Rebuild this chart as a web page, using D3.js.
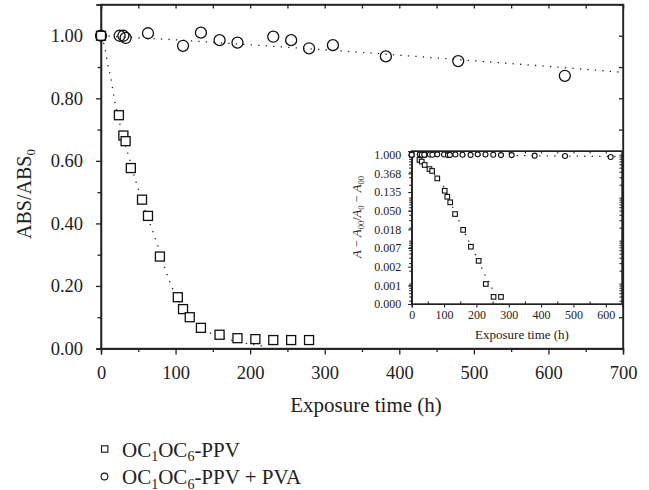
<!DOCTYPE html>
<html>
<head>
<meta charset="utf-8">
<script src="https://cdn.jsdelivr.net/npm/d3@7"></script>
<style>
  body { margin: 0; background: #fff; }
  svg { font-family: "Liberation Serif", "DejaVu Serif", serif; }
  .frame { fill: none; stroke: #222; stroke-width: 1.4; }
  .fit { fill: none; stroke: #222; stroke-width: 1.3; stroke-dasharray: 1.3 6.2; stroke-linecap: butt; }
  .mk { fill: #fff; stroke: #111; stroke-width: 1.3; }
</style>
</head>
<body>
<svg id="chart" width="649" height="490"></svg>
<script>
// main plot, OC1OC6-PPV (squares)
var sqT = [0, 24, 30, 33, 40, 55, 63, 79, 103, 110, 119, 134, 159, 183, 207, 231, 255, 279];
var sqV = [1.00, 0.746, 0.681, 0.663, 0.577, 0.476, 0.424, 0.294, 0.164, 0.126, 0.100, 0.066, 0.044, 0.033, 0.030, 0.027, 0.027, 0.027];
// main plot, OC1OC6-PPV + PVA (circles)
var ciT = [0, 25, 30, 33, 63, 110, 134, 159, 183, 231, 255, 279, 311, 382, 479, 622];
var ciV = [1.00, 1.00, 1.00, 0.993, 1.008, 0.968, 1.01, 0.986, 0.978, 0.997, 0.986, 0.960, 0.970, 0.934, 0.919, 0.872];
// dotted fit curves
var sqFitT = [0, 6, 9, 13, 16, 19, 24, 27, 34, 39, 45, 52, 59, 71, 76, 85, 95, 106, 117, 130, 148, 166, 184, 202, 217];
var sqFitV = [1.0, 0.952, 0.91, 0.867, 0.825, 0.782, 0.735, 0.697, 0.639, 0.601, 0.548, 0.495, 0.442, 0.365, 0.33, 0.261, 0.197, 0.144, 0.104, 0.075, 0.048, 0.032, 0.022, 0.013, 0.008];
var ciFitT = [0, 100, 200, 300, 400, 500, 600, 700];
var ciFitV = [1.0, 0.987, 0.971, 0.955, 0.938, 0.920, 0.902, 0.883];

// inset (log scale)
var insSqT = [0, 26, 38, 24, 31, 40, 55, 63, 79, 102, 110, 119, 134, 159, 183, 207, 229, 253, 276];
var insSqV = [1.0, 0.99, 0.99, 0.756, 0.691, 0.577, 0.463, 0.419, 0.281, 0.145, 0.105, 0.078, 0.0416, 0.0178, 0.00722, 0.00338, 0.00098, 0.00049, 0.00049];
var insCiT = [0, 25, 31, 39, 56, 64, 79, 100, 112, 118, 135, 157, 182, 204, 228, 252, 276, 309, 380, 474, 615];
var insCiV = [1.0, 1.01, 1.0, 1.0, 1.01, 1.0, 1.02, 1.01, 0.98, 0.99, 1.01, 1.0, 0.99, 1.02, 1.01, 1.0, 0.98, 0.98, 0.951, 0.932, 0.887];
var insSqFitT = [0, 20, 40, 60, 80, 100, 125, 150, 175, 200, 225, 240, 258];
var insSqFitV = [1.0, 0.819, 0.607, 0.427, 0.287, 0.174, 0.064, 0.0247, 0.0101, 0.0043, 0.00166, 0.00106, 0.00055];
var insCiFitT = [0, 650];
var insCiFitV = [1.0, 0.905];

var xTicks = [0, 100, 200, 300, 400, 500, 600, 700];
var yTicks = [0, 0.2, 0.4, 0.6, 0.8, 1.0];
var insXTicks = [0, 100, 200, 300, 400, 500, 600];
var insYTicks = [1, 0.3679, 0.1353, 0.0498, 0.0183, 0.00674, 0.00248, 0.000912, 0.000335];
var insYLabels = ['1.000', '0.368', '0.135', '0.050', '0.018', '0.007', '0.002', '0.001', '0.000'];

var svg = d3.select('#chart');

var x = d3.scaleLinear().domain([0, 700]).range([101, 623]);
var y = d3.scaleLinear().domain([0, 1.1]).range([348.5, 4.5]);

var zip = function(a, b) { return a.map(function(d, i) { return [d, b[i]]; }); };

// main axes
var axes = svg.append('g');
axes.append('g')
    .attr('transform', 'translate(0,' + y(0) + ')')
    .call(d3.axisBottom(x).tickValues(d3.range(50, 700, 100)).tickSize(3.5).tickFormat(''));
axes.append('g')
    .attr('transform', 'translate(0,' + y(0) + ')')
    .call(d3.axisBottom(x).tickValues(xTicks).tickSize(6).tickPadding(11).tickFormat(d3.format('d')));
axes.append('g')
    .attr('transform', 'translate(' + x(0) + ',0)')
    .call(d3.axisLeft(y).tickValues([0.1, 0.3, 0.5, 0.7, 0.9]).tickSize(3.5).tickFormat(''));
axes.append('g')
    .attr('transform', 'translate(' + x(0) + ',0)')
    .call(d3.axisLeft(y).tickValues(yTicks).tickSize(5).tickPadding(13).tickFormat(d3.format('.2f')));
axes.append('g')
    .attr('transform', 'translate(0,' + y(1.1) + ')')
    .call(d3.axisBottom(x).tickValues(d3.range(0, 701, 50)).tickSize(4).tickFormat(''));
axes.append('g')
    .attr('transform', 'translate(' + x(700) + ',0)')
    .call(d3.axisLeft(y).tickValues(d3.range(0, 1.1, 0.1)).tickSize(4).tickFormat(''));

axes.selectAll('.tick text').attr('font-size', 18.5).attr('fill', '#222')
    .attr('font-family', '"Liberation Serif", serif');
axes.selectAll('.domain, .tick line').attr('stroke', '#222').attr('stroke-width', 1.3);

svg.append('rect').attr('class', 'frame')
    .attr('x', x(0)).attr('y', y(1.1))
    .attr('width', x(700) - x(0)).attr('height', y(0) - y(1.1));

// fit curves
var line = d3.line().x(function(d) { return x(d[0]); }).y(function(d) { return y(d[1]); }).curve(d3.curveMonotoneX);
svg.append('path').attr('class', 'fit').attr('d', line(zip(sqFitT, sqFitV)));
svg.append('path').attr('class', 'fit').attr('d', line(zip(ciFitT, ciFitV)));

// markers
svg.selectAll('.sq').data(zip(sqT, sqV)).enter().append('rect')
    .attr('class', 'mk')
    .attr('x', function(d) { return x(d[0]) - 4.5; })
    .attr('y', function(d) { return y(d[1]) - 4.5; })
    .attr('width', 9).attr('height', 9);
svg.selectAll('.ci').data(zip(ciT, ciV)).enter().append('circle')
    .attr('class', 'mk').attr('fill-opacity', 0)
    .attr('cx', function(d) { return x(d[0]); })
    .attr('cy', function(d) { return y(d[1]); })
    .attr('r', 5.5);

// labels
svg.append('text').attr('x', 366).attr('y', 412).attr('text-anchor', 'middle')
    .attr('font-size', 21).attr('fill', '#222').text('Exposure time (h)');
var yl = svg.append('text').attr('transform', 'translate(31,194) rotate(-90)')
    .attr('text-anchor', 'middle').attr('font-size', 20).attr('fill', '#222');
yl.append('tspan').text('ABS/ABS');
yl.append('tspan').attr('font-size', 13).attr('dy', 4).text('0');

// inset
var ix = d3.scaleLinear().domain([0, 650]).range([411.7, 622]);
var iy = d3.scaleLog().domain([0.000335, 1.22]).range([304, 151]);

var inset = svg.append('g');
inset.append('rect').attr('x', ix(0)).attr('y', iy(1.22))
    .attr('width', ix(650) - ix(0)).attr('height', iy(0.000335) - iy(1.22)).attr('fill', '#fff');

var minorLog = [];
[0.0001, 0.001, 0.01, 0.1].forEach(function(p) {
  for (var k = 1; k < 10; k++) {
    var v = p * k;
    if (v >= 0.000335 && v <= 1.22) minorLog.push(v);
  }
});
minorLog.push(1);

inset.append('g').attr('transform', 'translate(' + ix(0) + ',0)')
    .call(d3.axisLeft(iy).tickValues(minorLog).tickSize(2.5).tickFormat(''));
inset.append('g').attr('transform', 'translate(' + ix(0) + ',0)')
    .call(d3.axisLeft(iy).tickValues(insYTicks).tickSize(3.5).tickPadding(7)
      .tickFormat(function(d, i) { return insYLabels[i]; }));
inset.append('g').attr('transform', 'translate(' + ix(650) + ',0)')
    .call(d3.axisLeft(iy).tickValues(minorLog).tickSize(2.5).tickFormat(''));
inset.append('g').attr('transform', 'translate(0,' + iy(0.000335) + ')')
    .call(d3.axisBottom(ix).tickValues(d3.range(50, 650, 100)).tickSize(-2.5).tickFormat(''));
inset.append('g').attr('transform', 'translate(0,' + iy(0.000335) + ')')
    .call(d3.axisBottom(ix).tickValues(insXTicks).tickSize(3.5).tickPadding(3).tickFormat(d3.format('d')));
inset.append('g').attr('transform', 'translate(0,' + iy(1.22) + ')')
    .call(d3.axisBottom(ix).tickValues(d3.range(0, 651, 50)).tickSize(2.5).tickFormat(''));

inset.selectAll('.tick text').attr('font-size', 12).attr('fill', '#222')
    .attr('font-family', '"Liberation Serif", serif');
inset.selectAll('.domain, .tick line').attr('stroke', '#222').attr('stroke-width', 1.1);
inset.append('rect').attr('fill', 'none').attr('stroke', '#222').attr('stroke-width', 1.4)
    .attr('x', ix(0)).attr('y', iy(1.22))
    .attr('width', ix(650) - ix(0)).attr('height', iy(0.000335) - iy(1.22));

var iline = d3.line().x(function(d) { return ix(d[0]); }).y(function(d) { return iy(d[1]); });
inset.append('path').attr('class', 'fit').attr('stroke-width', 1.1).attr('stroke-dasharray', '1.1 5')
    .attr('d', iline(zip(insSqFitT, insSqFitV)));
inset.append('path').attr('class', 'fit').attr('stroke-width', 1.1).attr('stroke-dasharray', '1.1 5')
    .attr('d', iline(zip(insCiFitT, insCiFitV)));

inset.selectAll('.isq').data(zip(insSqT, insSqV)).enter().append('rect')
    .attr('fill', '#fff').attr('stroke', '#111').attr('stroke-width', 1.1)
    .attr('x', function(d) { return ix(d[0]) - 2.3; })
    .attr('y', function(d) { return iy(d[1]) - 2.3; })
    .attr('width', 4.6).attr('height', 4.6);
inset.selectAll('.ici').data(zip(insCiT, insCiV)).enter().append('circle')
    .attr('fill', '#fff').attr('stroke', '#111').attr('stroke-width', 1.1)
    .attr('cx', function(d) { return ix(d[0]); })
    .attr('cy', function(d) { return iy(d[1]); })
    .attr('r', 2.5);

inset.append('text').attr('x', 522).attr('y', 339).attr('text-anchor', 'middle')
    .attr('font-size', 13).attr('fill', '#222').text('Exposure time (h)');
var il = inset.append('text').attr('transform', 'translate(361,217) rotate(-90)')
    .attr('text-anchor', 'middle').attr('font-size', 12.5).attr('fill', '#222');
il.append('tspan').attr('font-style', 'italic').text('A');
il.append('tspan').text(' \u2212 ');
il.append('tspan').attr('font-style', 'italic').text('A');
il.append('tspan').attr('font-size', 8.5).attr('dy', 3).text('00');
il.append('tspan').attr('dy', -3).text('/');
il.append('tspan').attr('font-style', 'italic').text('A');
il.append('tspan').attr('font-size', 8.5).attr('dy', 3).text('0');
il.append('tspan').attr('dy', -3).text(' \u2212 ');
il.append('tspan').attr('font-style', 'italic').text('A');
il.append('tspan').attr('font-size', 8.5).attr('dy', 3).text('00');

// legend
var legend = svg.append('g');
var lg = [{ sym: 'sq', main: ['OC', '1', 'OC', '6', '-PPV'] },
          { sym: 'ci', main: ['OC', '1', 'OC', '6', '-PPV + PVA'] }];
lg.forEach(function(item, i) {
  var cy = 449 + i * 27.5;
  if (item.sym === 'sq') {
    legend.append('rect').attr('fill', '#fff').attr('stroke', '#111').attr('stroke-width', 1.1)
        .attr('x', 101.5).attr('y', cy - 3.2).attr('width', 6.4).attr('height', 6.4);
  } else {
    legend.append('circle').attr('fill', '#fff').attr('stroke', '#111').attr('stroke-width', 1.1)
        .attr('cx', 104.5).attr('cy', cy).attr('r', 3.4);
  }
  var t = legend.append('text').attr('x', 122).attr('y', cy + 7.5).attr('font-size', 21).attr('fill', '#222');
  item.main.forEach(function(s, k) {
    if (k % 2 === 1) {
      t.append('tspan').attr('font-size', 14).attr('dy', 4.5).text(s);
    } else {
      t.append('tspan').attr('dy', k === 0 ? 0 : -4.5).text(s);
    }
  });
});
</script>
</body>
</html>
